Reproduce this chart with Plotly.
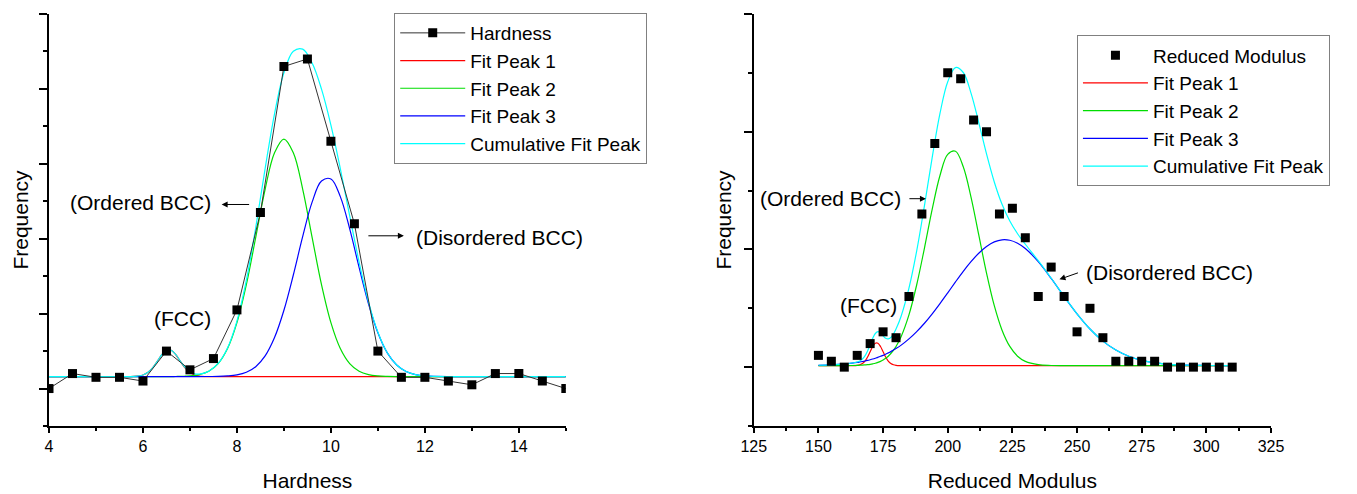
import plotly.graph_objects as go

# measured hardness histogram (left panel)
hardness_x = [4, 4.5, 5, 5.5, 6, 6.5, 7, 7.5, 8, 8.5, 9, 9.5, 10, 10.5, 11, 11.5, 12, 12.5, 13, 13.5, 14, 14.5, 15]
hardness_freq = [0, 2, 1.5, 1.5, 1, 5, 2.5, 4, 10.5, 23.5, 43, 44, 33, 22, 5, 1.5, 1.5, 1, 0.5, 2, 2, 1, 0]

# fit curves
hard_fit_x = [4, 4.5, 5, 5.5, 5.8, 6.0, 6.1, 6.2, 6.3, 6.4, 6.5, 6.6, 6.7, 6.8, 6.9, 7.0, 7.1, 7.2, 7.4, 7.6,
              7.8, 8.0, 8.2, 8.4, 8.6, 8.8, 9.0, 9.2, 9.4, 9.6, 9.8, 10.0, 10.2, 10.4, 10.6, 10.8, 11.0, 11.2, 11.4, 11.6,
              11.8, 12.0, 12.5, 13, 14, 15]
hard_peak1 = [1.6, 1.6, 1.6, 1.6, 1.62, 1.81, 2.13, 2.73, 3.59, 4.51, 5.12, 5.12, 4.51, 3.59, 2.73, 2.13, 1.81, 1.67, 1.6, 1.6,
              1.6, 1.6, 1.6, 1.6, 1.6, 1.6, 1.6, 1.6, 1.6, 1.6, 1.6, 1.6, 1.6, 1.6, 1.6, 1.6, 1.6, 1.6, 1.6, 1.6,
              1.6, 1.6, 1.6, 1.6, 1.6, 1.6]
hard_peak2 = [1.6, 1.6, 1.6, 1.6, 1.6, 1.6, 1.6, 1.6, 1.6, 1.6, 1.6, 1.6, 1.61, 1.62, 1.65, 1.68, 1.75, 1.86, 2.31, 3.33,
              5.34, 8.79, 13.86, 20.18, 26.6, 31.47, 33.3, 31.47, 26.6, 20.18, 13.86, 8.79, 5.34, 3.33, 2.31, 1.86, 1.68, 1.62, 1.6, 1.6,
              1.6, 1.6, 1.6, 1.6, 1.6, 1.6]
hard_peak3 = [1.6, 1.6, 1.6, 1.6, 1.6, 1.6, 1.6, 1.6, 1.6, 1.6, 1.6, 1.6, 1.6, 1.6, 1.6, 1.6, 1.6, 1.6, 1.61, 1.62,
              1.68, 1.82, 2.17, 2.92, 4.36, 6.81, 10.45, 15.16, 20.31, 24.88, 27.71, 27.98, 25.62, 21.31, 16.18, 11.32, 7.44, 4.76, 3.14, 2.28,
              1.87, 1.7, 1.6, 1.6, 1.6, 1.6]
hard_cum = [1.6, 1.6, 1.6, 1.6, 1.62, 1.81, 2.13, 2.73, 3.59, 4.51, 5.12, 5.12, 4.52, 3.61, 2.78, 2.21, 1.96, 1.93, 2.32, 3.35,
            5.42, 9.01, 14.43, 21.5, 29.36, 36.68, 42.15, 45.03, 45.31, 43.46, 39.97, 35.17, 29.36, 23.04, 16.89, 11.58, 7.52, 4.78, 3.14, 2.28,
            1.87, 1.7, 1.6, 1.6, 1.6, 1.6]

# measured reduced modulus histogram (right panel)
modulus_x = [150, 155, 160, 165, 170, 175, 180, 185, 190, 195, 200, 205, 210, 215, 220, 225, 230,
             235, 240, 245, 250, 255, 260, 265, 270, 275, 280, 285, 290, 295, 300, 305, 310]
modulus_freq = [1, 0.5, 0, 1, 2, 3, 2.5, 6, 13, 19, 25, 24.5, 21, 20, 13, 13.5, 11,
                6, 8.5, 6, 3, 5, 2.5, 0.5, 0.5, 0.5, 0.5, 0, 0, 0, 0, 0, 0]

# fit curves
mod_fit_x = [150, 155, 160, 163, 165, 166, 167, 168, 169, 170, 171, 172, 173, 174, 175, 176, 177, 178, 179, 180,
             182, 185, 188, 191, 194, 197, 200, 203, 206, 209, 212, 215, 218, 221, 224, 227, 230, 235, 240, 245,
             250, 255, 260, 265, 270, 275, 280, 290, 300, 310]
mod_peak1 = [0.13, 0.13, 0.13, 0.13, 0.15, 0.2, 0.3, 0.51, 0.86, 1.31, 1.75, 2.03, 2.03, 1.75, 1.31, 0.86, 0.51, 0.3, 0.2, 0.15,
             0.13, 0.13, 0.13, 0.13, 0.13, 0.13, 0.13, 0.13, 0.13, 0.13, 0.13, 0.13, 0.13, 0.13, 0.13, 0.13, 0.13, 0.13, 0.13, 0.13,
             0.13, 0.13, 0.13, 0.13, 0.13, 0.13, 0.13, 0.13, 0.13, 0.13]
mod_peak2 = [0.13, 0.13, 0.13, 0.14, 0.15, 0.16, 0.17, 0.19, 0.21, 0.24, 0.28, 0.33, 0.4, 0.49, 0.61, 0.75, 0.93, 1.16, 1.43, 1.76,
             2.61, 4.44, 7.0, 10.12, 13.42, 16.28, 18.07, 18.34, 17.02, 14.45, 11.23, 7.99, 5.22, 3.14, 1.76, 0.93, 0.49, 0.21, 0.14, 0.13,
             0.13, 0.13, 0.13, 0.13, 0.13, 0.13, 0.13, 0.13, 0.13, 0.13]
mod_peak3 = [0.16, 0.2, 0.27, 0.34, 0.4, 0.44, 0.48, 0.52, 0.57, 0.63, 0.69, 0.76, 0.83, 0.92, 1.0, 1.1, 1.21, 1.32, 1.45, 1.58,
             1.87, 2.4, 3.02, 3.73, 4.53, 5.4, 6.31, 7.24, 8.14, 8.96, 9.68, 10.25, 10.64, 10.82, 10.78, 10.53, 10.08, 8.96, 7.54, 6.0,
             4.53, 3.24, 2.21, 1.45, 0.92, 0.57, 0.37, 0.19, 0.14, 0.13]
mod_cum = [0.16, 0.2, 0.27, 0.35, 0.44, 0.53, 0.69, 0.96, 1.38, 1.92, 2.46, 2.86, 3.01, 2.9, 2.66, 2.45, 2.4, 2.52, 2.81, 3.23,
           4.35, 6.71, 9.88, 13.72, 17.82, 21.55, 24.25, 25.45, 25.03, 23.28, 20.78, 18.11, 15.73, 13.83, 12.41, 11.33, 10.44, 9.04, 7.55, 6.0,
           4.53, 3.24, 2.21, 1.45, 0.92, 0.57, 0.37, 0.19, 0.14, 0.13]

peak_names = ['Fit Peak 1', 'Fit Peak 2', 'Fit Peak 3', 'Cumulative Fit Peak']
peak_colors = ['#ff0000', '#00dd00', '#0000ff', '#00ffff']

FONT = 'Liberation Sans, Arial, Helvetica, sans-serif'

fig = go.Figure()

# left panel: fits first, data on top
for name, ys, col, rank in zip(peak_names, [hard_peak1, hard_peak2, hard_peak3, hard_cum], peak_colors, [2, 3, 4, 5]):
  fig.add_trace(go.Scatter(x=hard_fit_x, y=ys, mode='lines', name=name, line=dict(color=col, width=1.2, shape='spline'),
                           xaxis='x', yaxis='y', legend='legend', legendrank=rank))
fig.add_trace(go.Scatter(x=hardness_x, y=hardness_freq, mode='lines+markers', name='Hardness',
                         line=dict(color='#333333', width=1), marker=dict(symbol='square', size=9, color='black'),
                         xaxis='x', yaxis='y', legend='legend', legendrank=1))

# right panel
for name, ys, col, rank in zip(peak_names, [mod_peak1, mod_peak2, mod_peak3, mod_cum], peak_colors, [2, 3, 4, 5]):
  fig.add_trace(go.Scatter(x=mod_fit_x, y=ys, mode='lines', name=name, line=dict(color=col, width=1.2, shape='spline'),
                           xaxis='x2', yaxis='y2', legend='legend2', legendrank=rank))
fig.add_trace(go.Scatter(x=modulus_x, y=modulus_freq, mode='markers', name='Reduced Modulus',
                         marker=dict(symbol='square', size=9, color='black'),
                         xaxis='x2', yaxis='y2', legend='legend2', legendrank=1))

axis_common = dict(showline=True, linecolor='black', linewidth=2, ticks='outside', tickcolor='black',
                   tickwidth=2, showgrid=False, zeroline=False, mirror=False)

legend_common = dict(bgcolor='white', bordercolor='#808080', borderwidth=1,
                     font=dict(family=FONT, size=19, color='black'), itemwidth=65,
                     entrywidth=196, entrywidthmode='pixels',
                     xanchor='left', yanchor='top', tracegroupgap=0)

def arrow(x, y, ax, ay, xref, yref):
  return dict(x=x, y=y, xref=xref, yref=yref, ax=ax, ay=ay, text='', showarrow=True,
              arrowhead=2, arrowsize=1.2, arrowwidth=1, arrowcolor='black')

def label(text, x, y, xref, yref):
  return dict(x=x, y=y, xref=xref, yref=yref, text=text, showarrow=False,
              font=dict(family=FONT, size=21, color='black'))

annotations = [
  label('(Ordered BCC)', 5.945, 24.83, 'x', 'y'),
  arrow(7.674, 24.57, 29, 0, 'x', 'y'),
  label('(Disordered BCC)', 13.58, 20.22, 'x', 'y'),
  arrow(11.553, 20.39, -37, 0, 'x', 'y'),
  label('(FCC)', 6.849, 9.34, 'x', 'y'),
  label('(Ordered BCC)', 154.8, 14.31, 'x2', 'y2'),
  arrow(191.56, 14.31, -18, 0, 'x2', 'y2'),
  label('(FCC)', 169.26, 5.23, 'x2', 'y2'),
  label('(Disordered BCC)', 285.7, 8.02, 'x2', 'y2'),
  arrow(243.2, 7.46, 20, -7, 'x2', 'y2'),
]

# the page body adds an 8px margin, so the figure is 8px smaller and shifted
fig.update_layout(
  width=1349, height=486,
  margin=dict(l=41, r=86, t=5, b=63),
  paper_bgcolor='white', plot_bgcolor='white',
  font=dict(family=FONT, color='black'),
  showlegend=True,
  xaxis=dict(axis_common, domain=[0, 0.42294], range=[4, 15], tick0=4, dtick=2, ticklen=5,
             minor=dict(dtick=1, ticklen=3, tickwidth=2, tickcolor='black'),
             tickfont=dict(size=16), title=dict(text='Hardness', font=dict(size=21), standoff=19), anchor='y'),
  yaxis=dict(axis_common, domain=[0, 1], range=[-5, 50], tick0=0, dtick=10, ticklen=8, showticklabels=False,
             minor=dict(dtick=5, ticklen=4, tickwidth=2, tickcolor='black'),
             title=dict(text='Frequency', font=dict(size=21), standoff=5), anchor='x'),
  xaxis2=dict(axis_common, domain=[0.57674, 1.0], range=[125, 325], tick0=125, dtick=25, ticklen=5,
              minor=dict(dtick=12.5, ticklen=3, tickwidth=2, tickcolor='black'),
              tickfont=dict(size=16), title=dict(text='Reduced Modulus', font=dict(size=21), standoff=19), anchor='y2'),
  yaxis2=dict(axis_common, domain=[0, 1], range=[-5, 30], tick0=0, dtick=10, ticklen=8, showticklabels=False,
              minor=dict(dtick=5, ticklen=4, tickwidth=2, tickcolor='black'),
              title=dict(text='Frequency', font=dict(size=21), standoff=6), anchor='x2'),
  legend=dict(legend_common, x=0.2825, y=1.0024),
  legend2=dict(legend_common, x=0.8412, y=0.948),
  annotations=annotations,
)

fig.write_html("out.html")
